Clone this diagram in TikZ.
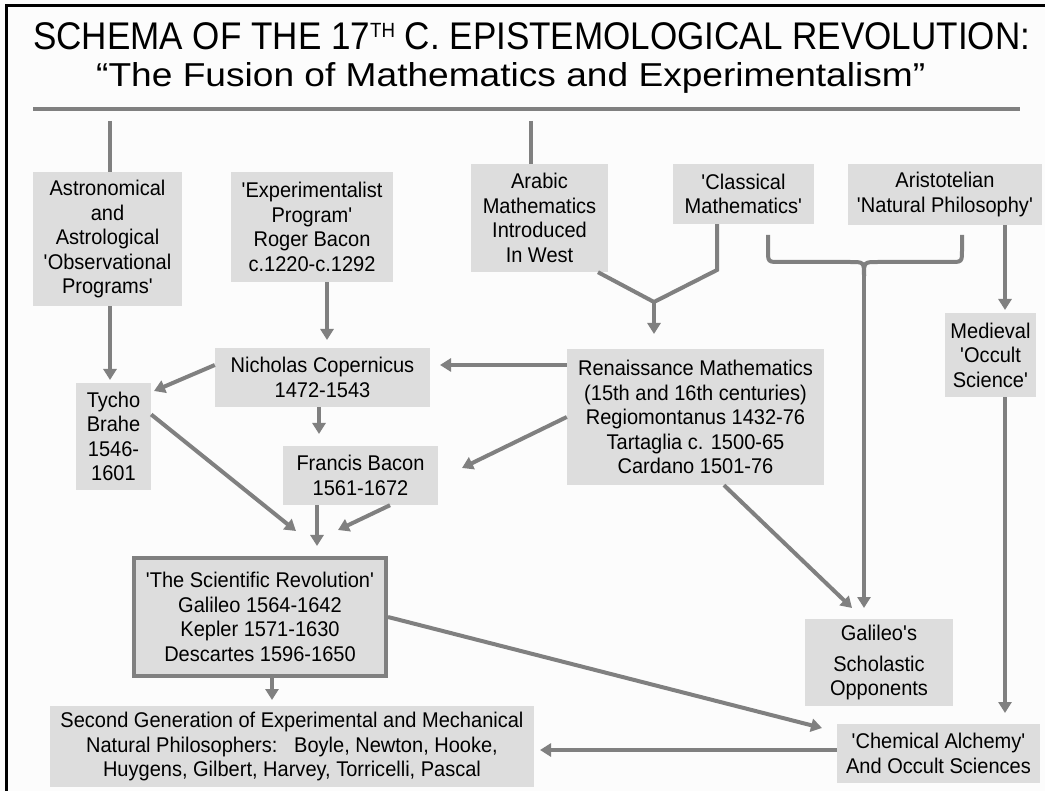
\documentclass[tikz,border=0pt]{standalone}
\usepackage{fontspec}
\setmainfont{Liberation Sans}[FakeStretch=0.94]
\usetikzlibrary{arrows.meta}
\definecolor{boxgray}{RGB}{221,221,221}
\definecolor{linegray}{RGB}{128,128,128}
\definecolor{bggray}{RGB}{252,252,252}
\newcommand{\tick}{\textquotesingle}
\begin{document}
\begin{tikzpicture}[x=1pt,y=-1pt,
  box/.style={fill=boxgray, inner sep=0pt, align=center, font=\fontsize{21.3}{24.5}\selectfont, text=black},
  conn/.style={draw=linegray, line width=4pt},
  arr/.style={conn, -{Triangle[width=13pt,length=11pt]}},
  titletext/.style={anchor=base west, inner sep=0pt, text=black}
]
\useasboundingbox (0,0) rectangle (1045,791);
\fill[bggray] (0,0) rectangle (1045,791);
\draw[black, line width=3pt] (6,791) -- (6,6) -- (1045,6);

% title
\node[titletext] (title1) at (33,50) {\resizebox{997pt}{27pt}{\fontsize{30}{30}\selectfont SCHEMA OF THE 17\raisebox{10pt}{\fontsize{16}{16}\selectfont TH} C. EPISTEMOLOGICAL REVOLUTION:}};
\node[titletext] (title2) at (96,87) {\resizebox{829pt}{24pt}{\fontsize{30}{30}\selectfont “The Fusion of Mathematics and Experimentalism”}};
\coordinate (ruleL) at (33,109);
\coordinate (ruleR) at (1020,109);
\draw[conn] (ruleL) -- (ruleR);

% boxes
\node[box, minimum width=149pt, minimum height=134pt] (astro) at (107.5,239) {Astronomical\\and\\Astrological\\\tick Observational\\Programs\tick};
\node[box, minimum width=162pt, minimum height=110pt] (exper) at (312,227) {\tick Experimentalist\\Program\tick\\Roger Bacon\\c.1220-c.1292};
\node[box, minimum width=137pt, minimum height=108pt] (arabic) at (539.5,218) {Arabic\\Mathematics\\Introduced\\In West};
\node[box, minimum width=141pt, minimum height=60pt] (classical) at (743.5,194) {\tick Classical\\Mathematics\tick};
\node[box, minimum width=194pt, minimum height=61pt] (aristo) at (945,194.5) {Aristotelian\\\tick Natural Philosophy\tick};
\node[box, minimum width=215pt, minimum height=59pt] (cop) at (322.5,377.5) {Nicholas Copernicus\\1472-1543};
\node[box, minimum width=75pt, minimum height=107pt] (tycho) at (113.5,436.5) {Tycho\\Brahe\\1546-\\1601};
\node[box, minimum width=155pt, minimum height=59pt] (francis) at (360.5,475.5) {Francis Bacon\\1561-1672};
\node[box, minimum width=257pt, minimum height=136pt] (ren) at (695.5,417) {Renaissance Mathematics\\(15th and 16th centuries)\\Regiomontanus 1432-76\\Tartaglia c. 1500-65\\Cardano 1501-76};
\node[box, minimum width=91pt, minimum height=84pt] (medieval) at (990.5,355) {Medieval\\\tick Occult\\Science\tick};
\node[box, draw=linegray, line width=4pt, minimum width=252pt, minimum height=118pt] (scirev) at (260,617) {\tick The Scientific Revolution\tick\\Galileo 1564-1642\\Kepler 1571-1630\\Descartes 1596-1650};
\node[box, minimum width=484pt, minimum height=81pt] (second) at (292,746.5) {Second Generation of Experimental and Mechanical\\Natural Philosophers:\ \ \ Boyle, Newton, Hooke,\\Huygens, Gilbert, Harvey, Torricelli, Pascal};
\node[box, minimum width=148pt, minimum height=87pt] (galileo) at (879,662.5) {Galileo\tick s\\[6pt]Scholastic\\Opponents};
\node[box, minimum width=203pt, minimum height=59pt] (chem) at (938.5,753.5) {\tick Chemical Alchemy\tick\\And Occult Sciences};

% coordinates for connector ends
\coordinate (a1) at (110,121);
\coordinate (a2) at (531,121);
\coordinate (p1) at (110,380);
\coordinate (p2) at (327,340);
\coordinate (p3) at (440,365);
\coordinate (p4) at (154,391);
\coordinate (p5) at (319,434);
\coordinate (p6) at (462,468);
\coordinate (p7) at (296,531);
\coordinate (p8) at (317,546);
\coordinate (p9) at (338,530);
\coordinate (J) at (654,302);
\coordinate (k) at (717,270);
\coordinate (p10) at (654,334);
\coordinate (bl) at (768,235);
\coordinate (br) at (962,235);
\coordinate (J2) at (864,276);
\coordinate (p11) at (864,608);
\coordinate (p12) at (852,608);
\coordinate (p13) at (1005,310);
\coordinate (p14) at (1005,713);
\coordinate (p15) at (822,728);
\coordinate (p16) at (540,750);
\coordinate (p17) at (272,700);

% connectors
\draw[conn] (a1) -- (a1 |- astro.north);
\draw[conn] (a2) -- (a2 |- arabic.north);
\draw[arr] (astro.south -| p1) -- (p1);
\draw[arr] (exper.south -| p2) -- (p2);
\draw[arr] (ren.west |- p3) -- (p3);
\draw[arr] (cop.west |- p3) -- (p4);
\draw[arr] (cop.south -| p5) -- (p5);
\draw[arr] (ren.west) -- (p6);
\draw[arr] ([yshift=22pt]tycho.east) -- (p7);
\draw[arr] (francis.south -| p8) -- (p8);
\draw[arr] ([xshift=29.5pt]francis.south) -- (p9);
\draw[conn, line join=miter] ([xshift=58.5pt]arabic.south) -- (J) -- (k) -- ([xshift=-26.5pt]classical.south);
\draw[arr] (J) -- (p10);
\draw[conn] (bl) -- (768,250) .. controls (768,262) .. (780,262) -- (850,262) .. controls (864,262) .. (J2);
\draw[conn] (br) -- (962,250) .. controls (962,262) .. (950,262) -- (878,262) .. controls (864,262) .. (J2);
\draw[arr] (J2) -- (p11);
\draw[arr] ([xshift=28.5pt]ren.south) -- (p12);
\draw[arr] (aristo.south -| p13) -- (p13);
\draw[arr] (medieval.south -| p14) -- (p14);
\draw[arr] (scirev.east) -- (p15);
\draw[arr] (chem.west |- p16) -- (p16);
\draw[arr] (scirev.south -| p17) -- (p17);
\end{tikzpicture}
\end{document}
